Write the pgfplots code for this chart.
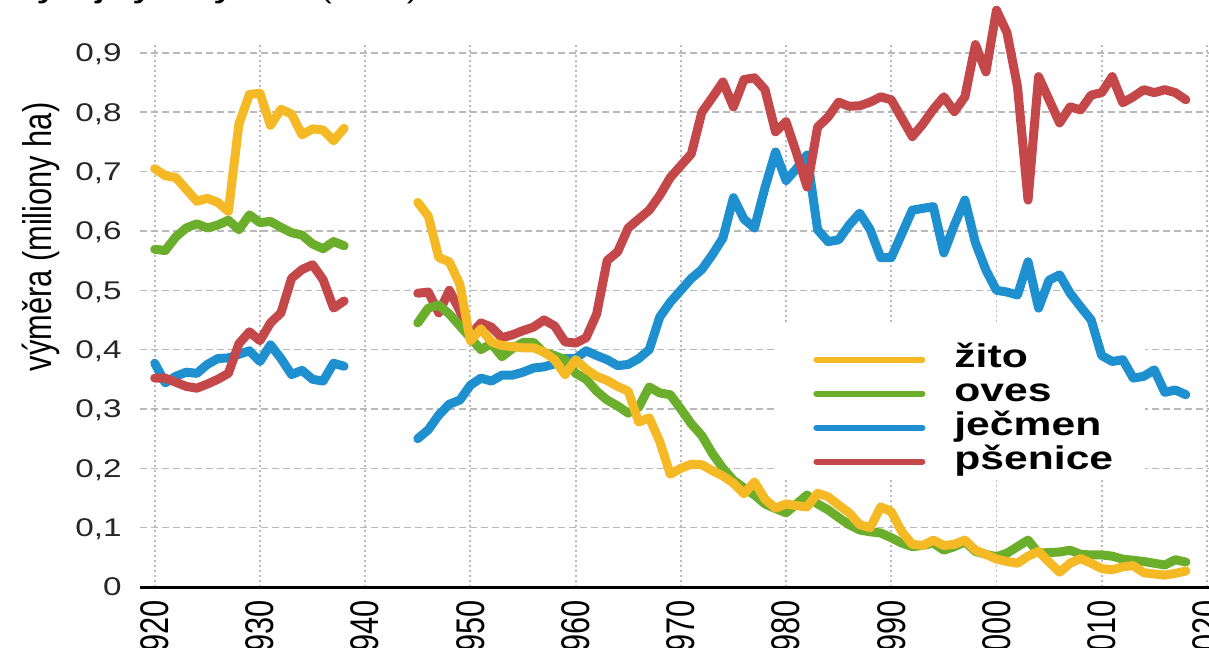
\documentclass[border=0pt]{standalone}
\usepackage{fontspec}
\setmainfont{Liberation Sans}
\newfontfamily\widefont[FakeStretch=1.3]{Liberation Sans}
\newfontfamily\narrowfont[FakeStretch=0.77]{Liberation Sans}
\usepackage{pgfplots}
\pgfplotsset{compat=1.18}
\definecolor{zito}{HTML}{F5B925}
\definecolor{oves}{HTML}{6BAE2C}
\definecolor{jecmen}{HTML}{1E8FCF}
\definecolor{psenice}{HTML}{C4474A}

% vymera v milionech ha, mezera 1939-1944
\pgfplotstableread{
rok v
1920 .705
1921 .693
1922 .69
1923 .67
1924 .65
1925 .655
1926 .648
1927 .633
1928 .78
1929 .83
1930 .832
1931 .778
1932 .805
1933 .797
1934 .762
1935 .772
1936 .77
1937 .752
1938 .773
1940 nan
1945 .648
1946 .625
1947 .555
1948 .548
1949 .51
1950 .415
1951 .435
1952 .413
1953 .407
1954 .405
1955 .403
1956 .403
1957 .396
1958 .383
1959 .358
1960 .383
1961 .367
1962 .355
1963 .348
1964 .338
1965 .33
1966 .278
1967 .285
1968 .245
1969 .19
1970 .2
1971 .207
1972 .206
1973 .196
1974 .187
1975 .175
1976 .157
1977 .177
1978 .148
1979 .133
1980 .14
1981 .137
1982 .135
1983 .158
1984 .152
1985 .138
1986 .125
1987 .105
1988 .1
1989 .135
1990 .127
1991 .093
1992 .072
1993 .07
1994 .079
1995 .07
1996 .072
1997 .079
1998 .062
1999 .055
2000 .047
2001 .043
2002 .04
2003 .052
2004 .06
2005 .042
2006 .025
2007 .04
2008 .048
2009 .04
2010 .031
2011 .029
2012 .034
2013 .036
2014 .024
2015 .022
2016 .02
2017 .023
2018 .027
}\zito

\pgfplotstableread{
rok v
1920 .569
1921 .567
1922 .59
1923 .605
1924 .612
1925 .605
1926 .61
1927 .618
1928 .602
1929 .627
1930 .614
1931 .616
1932 .606
1933 .597
1934 .593
1935 .578
1936 .57
1937 .582
1938 .575
1940 nan
1945 .445
1946 .47
1947 .475
1948 .46
1949 .44
1950 .42
1951 .40
1952 .41
1953 .388
1954 .402
1955 .412
1956 .412
1957 .395
1958 .39
1959 .383
1960 .36
1961 .35
1962 .33
1963 .315
1964 .305
1965 .293
1966 .303
1967 .337
1968 .327
1969 .324
1970 .3
1971 .275
1972 .255
1973 .225
1974 .2
1975 .18
1976 .167
1977 .155
1978 .14
1979 .132
1980 .125
1981 .14
1982 .155
1983 .14
1984 .13
1985 .117
1986 .105
1987 .096
1988 .093
1989 .091
1990 .083
1991 .074
1992 .068
1993 .07
1994 .074
1995 .062
1996 .068
1997 .076
1998 .06
1999 .055
2000 .051
2001 .057
2002 .068
2003 .079
2004 .057
2005 .058
2006 .059
2007 .062
2008 .055
2009 .054
2010 .054
2011 .052
2012 .047
2013 .045
2014 .043
2015 .04
2016 .037
2017 .046
2018 .042
}\oves

\pgfplotstableread{
rok v
1920 .377
1921 .344
1922 .355
1923 .362
1924 .36
1925 .375
1926 .385
1927 .386
1928 .392
1929 .398
1930 .38
1931 .408
1932 .385
1933 .358
1934 .365
1935 .35
1936 .347
1937 .377
1938 .372
1940 nan
1945 .25
1946 .265
1947 .29
1948 .308
1949 .315
1950 .34
1951 .352
1952 .347
1953 .357
1954 .357
1955 .362
1956 .369
1957 .371
1958 .376
1959 .385
1960 .385
1961 .398
1962 .39
1963 .383
1964 .373
1965 .375
1966 .385
1967 .4
1968 .455
1969 .48
1970 .5
1971 .52
1972 .535
1973 .56
1974 .588
1975 .656
1976 .62
1977 .605
1978 .673
1979 .733
1980 .685
1981 .705
1982 .728
1983 .602
1984 .582
1985 .585
1986 .61
1987 .63
1988 .602
1989 .555
1990 .555
1991 .595
1992 .635
1993 .638
1994 .641
1995 .563
1996 .61
1997 .652
1998 .58
1999 .534
2000 .5
2001 .497
2002 .492
2003 .548
2004 .47
2005 .517
2006 .526
2007 .495
2008 .472
2009 .45
2010 .39
2011 .38
2012 .383
2013 .352
2014 .355
2015 .366
2016 .328
2017 .332
2018 .324
}\jecmen

\pgfplotstableread{
rok v
1920 .352
1921 .352
1922 .345
1923 .338
1924 .335
1925 .342
1926 .35
1927 .36
1928 .41
1929 .43
1930 .415
1931 .445
1932 .462
1933 .52
1934 .535
1935 .543
1936 .518
1937 .47
1938 .482
1940 nan
1945 .495
1946 .497
1947 .462
1948 .5
1949 .465
1950 .425
1951 .445
1952 .438
1953 .42
1954 .425
1955 .432
1956 .438
1957 .45
1958 .44
1959 .413
1960 .411
1961 .42
1962 .46
1963 .55
1964 .565
1965 .605
1966 .62
1967 .635
1968 .66
1969 .69
1970 .71
1971 .73
1972 .80
1973 .825
1974 .851
1975 .809
1976 .855
1977 .858
1978 .838
1979 .767
1980 .784
1981 .731
1982 .674
1983 .775
1984 .792
1985 .817
1986 .81
1987 .811
1988 .817
1989 .826
1990 .821
1991 .79
1992 .759
1993 .78
1994 .805
1995 .826
1996 .801
1997 .826
1998 .914
1999 .868
2000 .972
2001 .934
2002 .843
2003 .652
2004 .86
2005 .821
2006 .782
2007 .809
2008 .804
2009 .829
2010 .833
2011 .86
2012 .816
2013 .826
2014 .838
2015 .833
2016 .838
2017 .833
2018 .821
}\psenice

\begin{document}
\begin{tikzpicture}
\begin{axis}[
  at={(70bp,30.5bp)}, anchor=south west,
  scale only axis, width=534.5bp, height=271.5bp,
  xmin=1918.6, xmax=2020.2, ymin=0, ymax=0.915,
  clip=false,
  axis x line*=bottom, axis y line*=left,
  y axis line style={draw=none},
  x axis line style={line width=1.5bp, black},
  major tick length=0pt,
  xtick={1920,1930,1940,1950,1960,1970,1980,1990,2000,2010,2020},
  xticklabels={1920,1930,1940,1950,1960,1970,1980,1990,2000,2010,2020},
  ytick={0,0.1,0.2,0.3,0.4,0.5,0.6,0.7,0.8,0.9},
  yticklabels={0,{0,1},{0,2},{0,3},{0,4},{0,5},{0,6},{0,7},{0,8},{0,9}},
  xticklabel style={rotate=90, anchor=east, inner sep=0pt,
    font=\narrowfont\fontsize{20bp}{22bp}\selectfont},
  xticklabel shift=6.5bp,
  yticklabel style={anchor=east, inner sep=0pt, text depth=0pt, text=black!85,
    font=\widefont\fontsize{12.8bp}{15bp}\selectfont},
  yticklabel shift=9bp,
  ylabel={výměra (miliony ha)},
  ylabel style={at={(axis description cs:-0.0926,0.6446)}, anchor=center,
    font=\narrowfont\fontsize{20bp}{22bp}\selectfont},
  xmajorgrids, ymajorgrids,
  x grid style={gray!55, line width=0.9bp, dash pattern=on 0.9bp off 1.6bp},
  y grid style={gray!55, line width=0.75bp, dash pattern=on 3.5bp off 2bp},
  unbounded coords=jump,
  every axis plot/.append style={line width=4.5bp, line join=round, line cap=round, no markers},
  legend style={at={(0.594,0.473)}, anchor=north west, draw=none, fill=none,
    inner xsep=19bp, inner ysep=6bp, row sep=0pt, column sep=14.5bp,
    font=\widefont\bfseries\fontsize{16.4bp}{17bp}\selectfont,
    nodes={inner sep=0pt, text height=12.5bp, text depth=4.5bp}},
  legend cell align=left,
  legend image code/.code={\draw[#1, line width=3bp, line cap=round] (0bp,0bp) -- (53bp,0bp);},
]
% bily podklad legendy pod krivkami
\fill[white] (rel axis cs:0.594,0.2007) rectangle (rel axis cs:0.940,0.4825);
\addlegendimage{zito}\addlegendentry{žito}
\addlegendimage{oves}\addlegendentry{oves}
\addlegendimage{jecmen}\addlegendentry{ječmen}
\addlegendimage{psenice}\addlegendentry{pšenice}
\addplot[jecmen, forget plot] table[x=rok, y=v] {\jecmen};
\addplot[psenice, forget plot] table[x=rok, y=v] {\psenice};
\addplot[oves, forget plot] table[x=rok, y=v] {\oves};
\addplot[zito, forget plot] table[x=rok, y=v] {\zito};
\end{axis}
\node[anchor=base west, inner sep=0pt, font=\widefont\bfseries\fontsize{13bp}{15bp}\selectfont]
  at (7bp,324.6bp) {Vývoj výměry obilí \mdseries(v ČR)};
\pgfresetboundingbox
\path[use as bounding box] (0,0) rectangle (604.5bp,324bp);
\end{tikzpicture}
\end{document}
